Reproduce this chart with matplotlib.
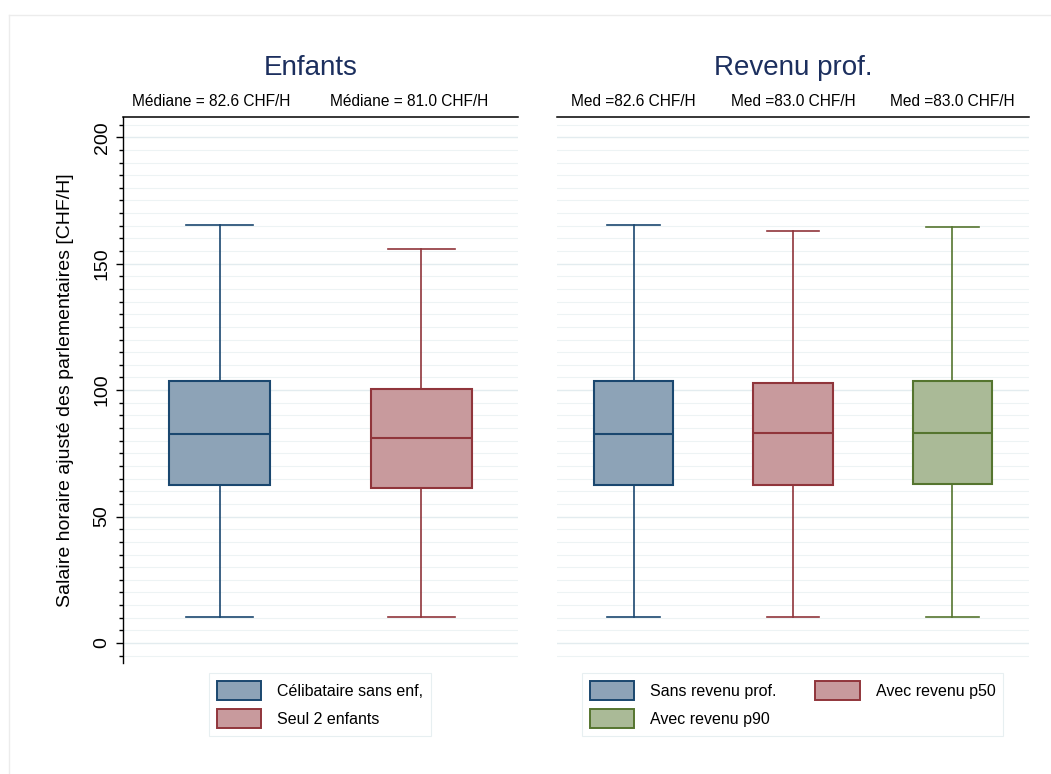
import matplotlib; matplotlib.use('Agg')
import matplotlib.pyplot as plt
import matplotlib.colors as mcolors
from matplotlib.patches import Patch
from matplotlib.lines import Line2D
from matplotlib.ticker import MultipleLocator
import matplotlib.transforms as mtransforms

# Data
enf_labels = ['Célibataire sans enf,', 'Seul 2 enfants']
enf_med = [82.6, 81.0]
enf_q1 = [62.3, 61.4]
enf_q3 = [103.7, 100.4]
enf_lo = [10.3, 10.3]
enf_hi = [165.2, 155.7]
enf_text = ['Médiane = 82.6 CHF/H', 'Médiane = 81.0 CHF/H']

rev_labels = ['Sans revenu prof.', 'Avec revenu p50', 'Avec revenu p90']
rev_med = [82.6, 83.0, 83.0]
rev_q1 = [62.3, 62.5, 62.8]
rev_q3 = [103.7, 103.0, 103.8]
rev_lo = [10.3, 10.3, 10.3]
rev_hi = [165.2, 162.8, 164.4]
rev_text = ['Med =82.6 CHF/H', 'Med =83.0 CHF/H', 'Med =83.0 CHF/H']

# Stata s2color palette
EDGES = ['#1a476f', '#90353b', '#55752f']
def lighten(c, f=0.5):
    r, g, b = mcolors.to_rgb(c)
    return (r + (1 - r) * f, g + (1 - g) * f, b + (1 - b) * f)
FILLS = [lighten(c) for c in EDGES]

plt.rcParams['font.family'] = ['Liberation Sans', 'DejaVu Sans']

W, H = 1051, 774
fig = plt.figure(figsize=(W / 100, H / 100), dpi=100)
fig.patch.set_facecolor('white')

def fy(py):
    return 1 - py / H

# faint outer graph-region border
fig.add_artist(Line2D([9 / W, 9 / W], [fy(15), 0], color='#ececec', lw=1))
fig.add_artist(Line2D([9 / W, 1], [fy(15), fy(15)], color='#ececec', lw=1))

ax1 = fig.add_axes([123 / W, fy(663), 395 / W, 546 / H])
ax2 = fig.add_axes([557 / W, fy(663), 472 / W, 546 / H])


def draw_panel(ax, med, q1, q3, lo, hi, ncat):
    stats = [dict(med=med[i], q1=q1[i], q3=q3[i], whislo=lo[i], whishi=hi[i], fliers=[])
             for i in range(ncat)]
    pos = list(range(1, ncat + 1))
    bp = ax.bxp(stats, positions=pos, widths=0.5, capwidths=0.33, patch_artist=True,
                showfliers=False, manage_ticks=False)
    for i in range(ncat):
        bp['boxes'][i].set(facecolor=FILLS[i], edgecolor=EDGES[i], lw=1.5, zorder=3)
        bp['medians'][i].set(color=EDGES[i], lw=1.5, zorder=4)
        for k in (2 * i, 2 * i + 1):
            bp['whiskers'][k].set(color=EDGES[i], lw=1.2, zorder=2)
            bp['caps'][k].set(color=EDGES[i], lw=1.2, zorder=2)

    ax.set_ylim(-7.9, 208)
    ax.set_xlim(0.52, ncat + 0.48)
    ax.yaxis.set_major_locator(MultipleLocator(50))
    ax.yaxis.set_minor_locator(MultipleLocator(5))
    ax.set_axisbelow(True)
    ax.grid(True, axis='y', which='major', color='#e3ecef', lw=1.0)
    ax.grid(True, axis='y', which='minor', color='#edf3f4', lw=0.8)
    ax.set_xticks([])
    for s in ['bottom', 'right']:
        ax.spines[s].set_visible(False)
    ax.spines['top'].set(color='black', lw=1.1)


draw_panel(ax1, enf_med, enf_q1, enf_q3, enf_lo, enf_hi, 2)
draw_panel(ax2, rev_med, rev_q1, rev_q3, rev_lo, rev_hi, 3)

ax1.spines['left'].set(color='black', lw=1.0)
ax1.tick_params(axis='y', which='major', length=5, width=1.0, labelsize=14, pad=4, labelrotation=90)
ax1.tick_params(axis='y', which='minor', length=3, width=1.0)
for t in ax1.get_yticklabels():
    t.set_va('center')
ax1.set_ylabel('Salaire horaire ajusté des parlementaires [CHF/H]', fontsize=14)
ax1.yaxis.set_label_coords(-0.125, 0.5)

ax2.spines['left'].set_visible(False)
ax2.tick_params(axis='y', which='both', length=0, labelleft=False)

# median labels above panels
tr1 = mtransforms.blended_transform_factory(ax1.transData, ax1.transAxes)
for x, s in zip([0.96, 1.94], enf_text):
    ax1.text(x, 1.029, s, transform=tr1, ha='center', va='center', fontsize=11.2)
tr2 = mtransforms.blended_transform_factory(ax2.transData, ax2.transAxes)
for x, s in zip([1, 2, 3], rev_text):
    ax2.text(x, 1.029, s, transform=tr2, ha='center', va='center', fontsize=11.2)

# panel titles
fig.text(311 / W, fy(68), 'Enfants', ha='center', va='center', fontsize=20, color='#1c2f5e')
fig.text(793 / W, fy(68), 'Revenu prof.', ha='center', va='center', fontsize=20, color='#1c2f5e')

# legends
h_enf = [Patch(facecolor=FILLS[i], edgecolor=EDGES[i], lw=1.4) for i in range(2)]
leg1 = fig.legend(h_enf, enf_labels, loc='center', bbox_to_anchor=(320 / W, fy(704.5)),
                  ncol=1, fontsize=11.5, frameon=True, fancybox=False, edgecolor='#e2ebee',
                  handlelength=2.8, handleheight=1.45, handletextpad=1.0,
                  labelspacing=0.55, borderpad=0.5)
leg1.get_frame().set_linewidth(0.8)

h_rev = [Patch(facecolor=FILLS[i], edgecolor=EDGES[i], lw=1.4) for i in range(3)]
order = [0, 2, 1]
leg2 = fig.legend([h_rev[i] for i in order], [rev_labels[i] for i in order], loc='center',
                  bbox_to_anchor=(792.5 / W, fy(704.5)), ncol=2, fontsize=11.5, frameon=True,
                  fancybox=False, edgecolor='#e2ebee', handlelength=2.8, handleheight=1.45,
                  handletextpad=1.0, labelspacing=0.55, borderpad=0.5, columnspacing=2.4)
leg2.get_frame().set_linewidth(0.8)

fig.savefig('out.png', dpi=100, facecolor='white')
plt.close(fig)
